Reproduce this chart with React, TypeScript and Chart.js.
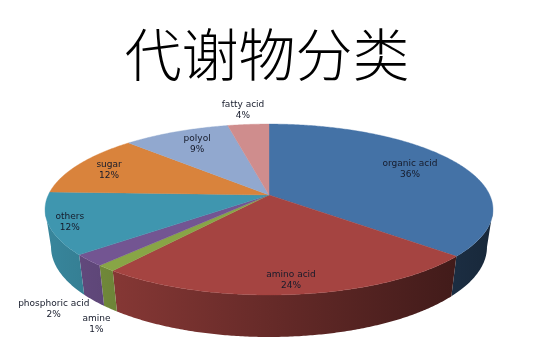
import React, { useEffect, useRef } from "react";
import { Chart, registerables } from "chart.js";

Chart.register(...registerables);

const titleText = "代谢物分类";
const categories = ["organic acid", "amino acid", "amine", "phosphoric acid", "others", "sugar", "polyol", "fatty acid"];
const sliceValues = [36.4, 24.1, 1.2, 2.2, 11.7, 11.8, 9.1, 3.5];
const percentLabels = ["36%", "24%", "1%", "2%", "12%", "12%", "9%", "4%"];
const topColors = ["#4472A6", "#A54441", "#88A546", "#735592", "#3F96AF", "#D9833C", "#91A8CF", "#CF8D8D"];
const labelRadius = [0.748, 0.876, 1.374, 1.368, 0.91, 0.824, 0.769, 1.239];
const labelShiftDeg = [-1.2, 0, -13.2, -10.8, -1.1, -1.2, 0.8, -0.3];

const persp = 0.17;
const topDisk = { cx: 269, cy: 195, rx: 220.7, ry: 83 };
const baseDisk = { cx: 269, cy: 231.7, rx: 214.8, ry: 87.4 };

function project(d: typeof topDisk, u: number, v: number) {
  const w = 1 - persp * v;
  return { x: d.cx + (d.rx * u) / w, y: d.cy + (d.ry * v) / w };
}
// angle is Chart.js' arc angle (radians, 0 = 3 o'clock, clockwise)
function rim(d: typeof topDisk, angle: number, r = 1) {
  return project(d, r * Math.cos(angle), r * Math.sin(angle));
}
function shade(hex: string, f: number) {
  const n = parseInt(hex.slice(1), 16);
  const c = [(n >> 16) & 255, (n >> 8) & 255, n & 255].map((v) => Math.round(v * f));
  return `rgb(${c[0]},${c[1]},${c[2]})`;
}

const pie3d = {
  id: "pie3d",
  beforeDatasetDraw(chart: any, args: any) {
    const ctx = chart.ctx;
    const arcs = args.meta.data;
    const step = Math.PI / 360;
    const frontStart = Math.asin(persp);
    const frontEnd = Math.PI - frontStart;
    ctx.save();
    ctx.filter = "blur(0.45px)";
    // side wall: only the part of the rim that faces the viewer
    arcs.forEach((arc: any, i: number) => {
      const from = Math.max(arc.startAngle, frontStart);
      const to = Math.min(arc.endAngle, frontEnd);
      if (to <= from) return;
      const grad = ctx.createLinearGradient(45, 0, 493, 0);
      grad.addColorStop(0, shade(topColors[i], 0.89));
      grad.addColorStop(1, shade(topColors[i], 0.35));
      ctx.fillStyle = grad;
      ctx.beginPath();
      const s = rim(topDisk, from);
      ctx.moveTo(s.x, s.y);
      for (let a = from + step; a < to; a += step) {
        const p = rim(topDisk, a);
        ctx.lineTo(p.x, p.y);
      }
      const e0 = rim(topDisk, to);
      const e1 = rim(baseDisk, to);
      ctx.lineTo(e0.x, e0.y);
      ctx.lineTo(e1.x, e1.y);
      for (let a = to - step; a > from; a -= step) {
        const p = rim(baseDisk, a);
        ctx.lineTo(p.x, p.y);
      }
      const e2 = rim(baseDisk, from);
      ctx.lineTo(e2.x, e2.y);
      ctx.closePath();
      ctx.fill();
    });
    // top face
    arcs.forEach((arc: any, i: number) => {
      ctx.fillStyle = topColors[i];
      ctx.strokeStyle = topColors[i];
      ctx.lineWidth = 0.4;
      ctx.beginPath();
      ctx.moveTo(topDisk.cx, topDisk.cy);
      for (let a = arc.startAngle; a < arc.endAngle; a += step) {
        const p = rim(topDisk, a);
        ctx.lineTo(p.x, p.y);
      }
      const e = rim(topDisk, arc.endAngle);
      ctx.lineTo(e.x, e.y);
      ctx.closePath();
      ctx.fill();
      ctx.stroke();
    });
    // labels
    ctx.filter = "blur(0.3px)";
    ctx.fillStyle = "#161b2b";
    ctx.font = '9px "DejaVu Sans"';
    ctx.textAlign = "center";
    ctx.textBaseline = "middle";
    arcs.forEach((arc: any, i: number) => {
      const mid = (arc.startAngle + arc.endAngle) / 2 + (labelShiftDeg[i] * Math.PI) / 180;
      const p = rim(topDisk, mid, labelRadius[i]);
      ctx.fillText(categories[i], p.x, p.y - 5.5);
      ctx.fillText(percentLabels[i], p.x, p.y + 5.5);
    });
    ctx.restore();
    return false;
  },
};

export default function App() {
  const ref = useRef<HTMLCanvasElement>(null);
  useEffect(() => {
    const chart = new Chart(ref.current as HTMLCanvasElement, {
      type: "pie",
      data: {
        labels: categories,
        datasets: [{ data: sliceValues, backgroundColor: topColors, borderWidth: 0 }],
      },
      options: {
        responsive: false,
        animation: false,
        rotation: 0,
        plugins: {
          legend: { display: false },
          tooltip: { enabled: false },
          title: {
            display: true,
            text: titleText,
            color: "#000000",
            font: { family: '"Noto Sans CJK SC"', size: 57, weight: "300" },
            padding: { top: 20, bottom: 0 },
          },
        },
      },
      plugins: [pie3d],
    } as any);
    return () => chart.destroy();
  }, []);
  return (
    <div style={{ position: "fixed", left: 0, top: 0, width: 534, height: 356, background: "#fff" }}>
      <canvas ref={ref} width={534} height={356} style={{ display: "block" }} />
    </div>
  );
}
